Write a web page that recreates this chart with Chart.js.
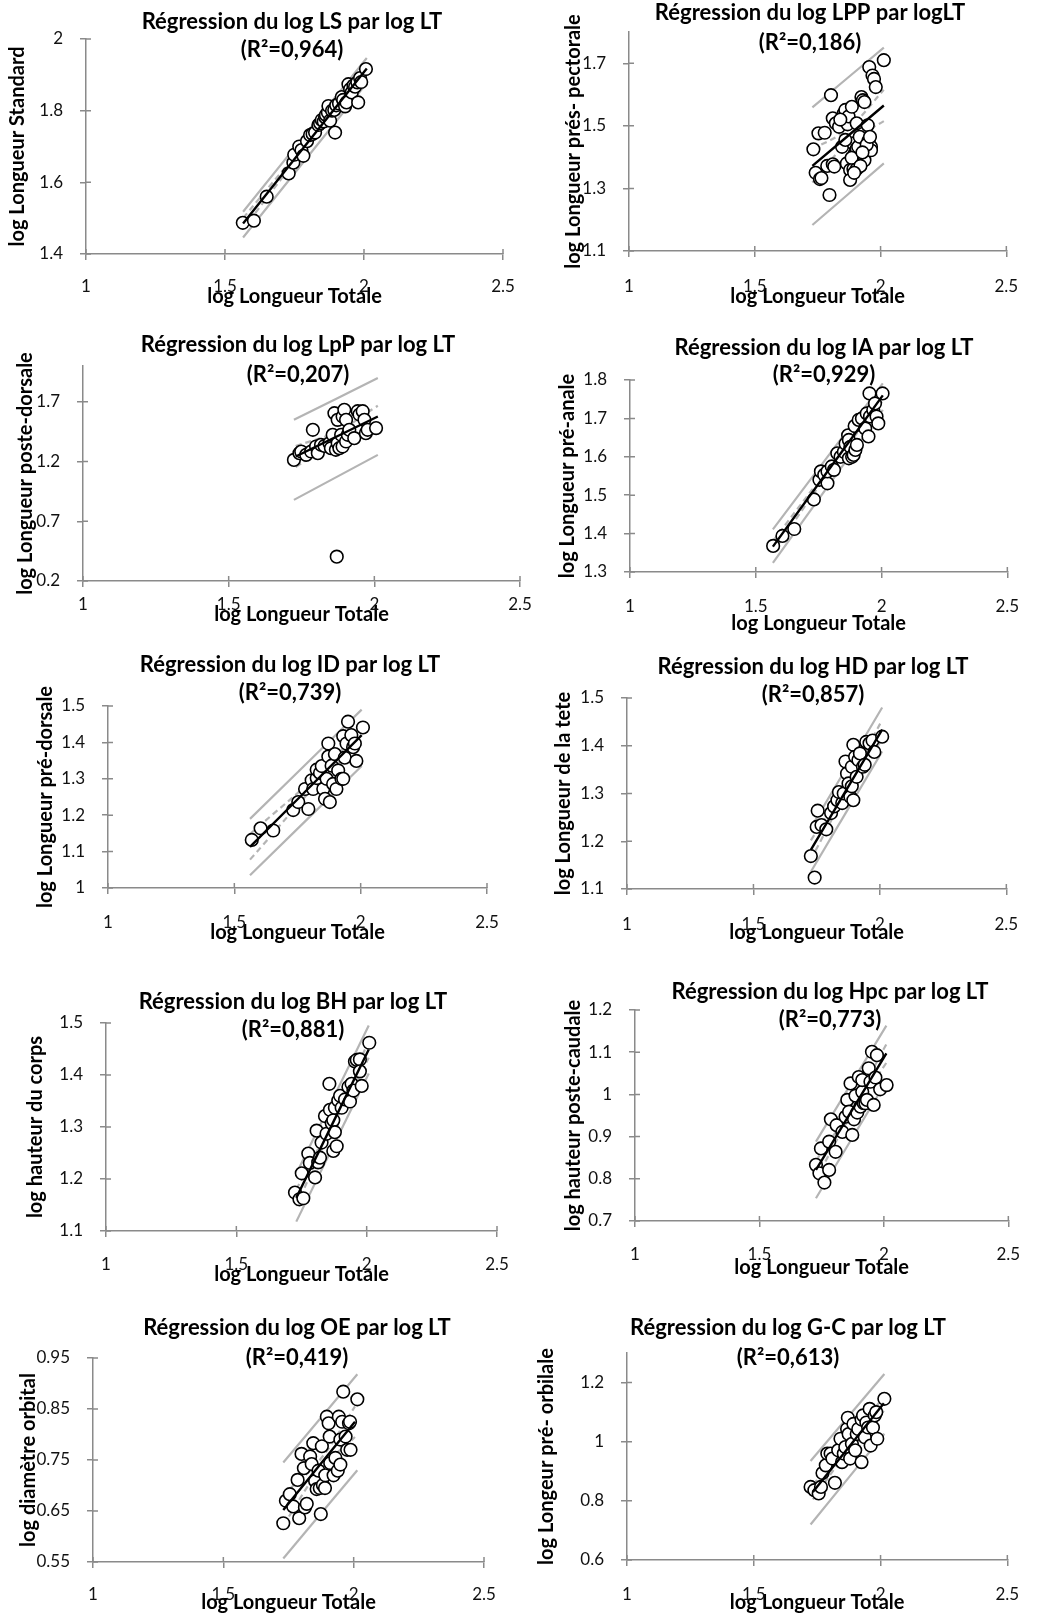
<!DOCTYPE html>
<html>
<head>
<meta charset="utf-8">
<script src="https://cdn.jsdelivr.net/npm/chart.js@4.4.0/dist/chart.umd.min.js"></script>
<style>
body { margin: 0; background: #fff; width: 1038px; height: 1617px; position: relative; overflow: hidden; }
.panel { position: absolute; }
</style>
</head>
<body>
<script>
// x axis is the same everywhere
var xTicks = [1, 1.5, 2, 2.5];
var xLabel = 'log Longueur Totale';

// LS
var lsTitle = ['Régression du log LS par log LT', '(R²=0,964)'];
var lsRange = [1.4, 2.0];
var lsTicks = [1.4, 1.6, 1.8, 2];
var lsPoints = [[1.564,1.487],[1.604,1.493],[1.650,1.560],[1.729,1.625],[1.746,1.655],[1.749,1.677],[1.767,1.700],[1.775,1.690],[1.782,1.674],[1.795,1.715],[1.806,1.732],[1.815,1.735],[1.824,1.739],[1.836,1.760],[1.842,1.765],[1.848,1.774],[1.855,1.770],[1.860,1.782],[1.863,1.788],[1.870,1.795],[1.872,1.813],[1.878,1.772],[1.885,1.800],[1.893,1.802],[1.896,1.739],[1.900,1.815],[1.910,1.820],[1.920,1.838],[1.925,1.830],[1.932,1.812],[1.937,1.823],[1.944,1.874],[1.950,1.860],[1.956,1.851],[1.962,1.870],[1.968,1.867],[1.976,1.879],[1.979,1.823],[1.986,1.891],[1.990,1.880],[2.007,1.916]];
var lsFit = [[1.565,1.485],[2.01,1.918]];
var lsPredUp = [[1.565,1.518],[2.01,1.947]];
var lsPredLo = [[1.565,1.446],[2.01,1.877]];
var lsConfUp = [[1.565,1.500],[1.87,1.787],[2.01,1.933]];
var lsConfLo = [[1.565,1.470],[1.87,1.777],[2.01,1.903]];

// LPP
var lppTitle = ['Régression du log LPP par logLT', '(R²=0,186)'];
var lppRange = [1.1, 1.8];
var lppTicks = [1.1, 1.3, 1.5, 1.7];
var lppPoints = [[1.733,1.425],[1.742,1.350],[1.759,1.330],[1.753,1.476],[1.765,1.333],[1.778,1.478],[1.788,1.372],[1.797,1.279],[1.803,1.598],[1.810,1.377],[1.810,1.524],[1.816,1.370],[1.822,1.508],[1.835,1.497],[1.847,1.433],[1.854,1.540],[1.860,1.551],[1.866,1.380],[1.869,1.505],[1.873,1.530],[1.879,1.359],[1.879,1.327],[1.886,1.561],[1.892,1.444],[1.892,1.362],[1.898,1.412],[1.905,1.508],[1.905,1.362],[1.905,1.427],[1.911,1.433],[1.917,1.465],[1.924,1.592],[1.930,1.582],[1.936,1.576],[1.936,1.390],[1.949,1.502],[1.953,1.454],[1.955,1.688],[1.962,1.433],[1.962,1.422],[1.968,1.661],[1.974,1.650],[1.981,1.624],[2.013,1.710],[1.885,1.398],[1.920,1.372],[1.945,1.440],[1.928,1.415],[1.860,1.455],[1.840,1.520],[1.958,1.465],[1.895,1.350]];
var lppFit = [[1.729,1.372],[2.013,1.565]];
var lppPredUp = [[1.729,1.559],[2.013,1.750]];
var lppPredLo = [[1.729,1.183],[2.013,1.380]];
var lppConfUp = [[1.729,1.425],[1.87,1.49],[2.013,1.615]];
var lppConfLo = [[1.729,1.319],[1.87,1.446],[2.013,1.515]];

// LpP
var lpTitle = ['Régression du log LpP par log LT', '(R²=0,207)'];
var lpRange = [0.2, 2.0];
var lpTicks = [0.2, 0.7, 1.2, 1.7];
var lpPoints = [[1.724,1.214],[1.743,1.270],[1.749,1.284],[1.766,1.256],[1.783,1.284],[1.789,1.466],[1.800,1.326],[1.806,1.270],[1.817,1.340],[1.829,1.331],[1.846,1.354],[1.851,1.312],[1.857,1.424],[1.863,1.605],[1.868,1.298],[1.871,0.404],[1.874,1.549],[1.874,1.354],[1.880,1.312],[1.886,1.424],[1.891,1.577],[1.891,1.326],[1.897,1.633],[1.903,1.549],[1.903,1.368],[1.909,1.424],[1.914,1.466],[1.931,1.396],[1.943,1.622],[1.949,1.594],[1.960,1.622],[1.966,1.549],[1.971,1.438],[1.977,1.466],[2.006,1.480]];
var lpFit = [[1.73,1.242],[2.012,1.577]];
var lpPredUp = [[1.724,1.55],[2.012,1.899]];
var lpPredLo = [[1.724,0.879],[2.012,1.256]];
var lpConfUp = [[1.73,1.33],[1.87,1.45],[2.012,1.667]];
var lpConfLo = [[1.73,1.154],[1.87,1.366],[2.012,1.487]];

// IA
var iaTitle = ['Régression du log IA par log LT', '(R²=0,929)'];
var iaRange = [1.3, 1.8];
var iaTicks = [1.3, 1.4, 1.5, 1.6, 1.7, 1.8];
var iaPoints = [[1.569,1.368],[1.606,1.394],[1.653,1.412],[1.731,1.489],[1.753,1.540],[1.759,1.562],[1.772,1.553],[1.785,1.531],[1.785,1.562],[1.802,1.575],[1.811,1.566],[1.824,1.609],[1.837,1.600],[1.850,1.613],[1.857,1.634],[1.867,1.656],[1.870,1.596],[1.870,1.644],[1.876,1.626],[1.883,1.600],[1.889,1.605],[1.893,1.680],[1.896,1.618],[1.902,1.631],[1.909,1.696],[1.922,1.700],[1.935,1.674],[1.941,1.713],[1.948,1.653],[1.952,1.765],[1.954,1.705],[1.967,1.722],[1.974,1.739],[1.980,1.705],[1.987,1.687],[2.004,1.765]];
var iaFit = [[1.568,1.366],[2.005,1.760]];
var iaPredUp = [[1.568,1.411],[2.005,1.791]];
var iaPredLo = [[1.568,1.324],[2.005,1.722]];
var iaConfUp = [[1.568,1.38],[1.87,1.643],[2.005,1.774]];
var iaConfLo = [[1.568,1.352],[1.87,1.633],[2.005,1.746]];

// ID
var idTitle = ['Régression du log ID par log LT', '(R²=0,739)'];
var idRange = [1.0, 1.5];
var idTicks = [1, 1.1, 1.2, 1.3, 1.4, 1.5];
var idPoints = [[1.569,1.132],[1.604,1.164],[1.654,1.158],[1.733,1.214],[1.753,1.236],[1.780,1.272],[1.793,1.217],[1.806,1.296],[1.812,1.272],[1.826,1.302],[1.826,1.325],[1.839,1.316],[1.846,1.335],[1.852,1.272],[1.859,1.245],[1.865,1.300],[1.872,1.397],[1.872,1.361],[1.878,1.236],[1.885,1.336],[1.891,1.286],[1.898,1.368],[1.904,1.272],[1.911,1.323],[1.924,1.300],[1.931,1.417],[1.931,1.300],[1.937,1.358],[1.944,1.397],[1.950,1.457],[1.963,1.420],[1.970,1.387],[1.977,1.397],[1.983,1.349],[2.009,1.441]];
var idFit = [[1.562,1.113],[2.004,1.42]];
var idPredUp = [[1.562,1.19],[2.004,1.49]];
var idPredLo = [[1.562,1.035],[2.004,1.335]];
var idConfUp = [[1.562,1.148],[1.87,1.337],[2.004,1.445]];
var idConfLo = [[1.562,1.078],[1.87,1.317],[2.004,1.395]];

// HD
var hdTitle = ['Régression du log HD par log LT', '(R²=0,857)'];
var hdRange = [1.1, 1.5];
var hdTicks = [1.1, 1.2, 1.3, 1.4, 1.5];
var hdPoints = [[1.727,1.169],[1.742,1.124],[1.750,1.230],[1.754,1.264],[1.769,1.234],[1.788,1.225],[1.807,1.259],[1.819,1.273],[1.832,1.286],[1.838,1.303],[1.851,1.280],[1.857,1.300],[1.864,1.367],[1.870,1.342],[1.876,1.321],[1.883,1.293],[1.889,1.356],[1.889,1.315],[1.895,1.402],[1.895,1.286],[1.902,1.377],[1.908,1.335],[1.915,1.370],[1.921,1.384],[1.933,1.356],[1.940,1.360],[1.946,1.408],[1.959,1.405],[1.971,1.411],[1.978,1.387],[2.009,1.419]];
var hdFit = [[1.727,1.182],[2.009,1.434]];
var hdPredUp = [[1.727,1.228],[2.009,1.48]];
var hdPredLo = [[1.727,1.136],[2.009,1.388]];
var hdConfUp = [[1.727,1.202],[1.87,1.318],[2.009,1.454]];
var hdConfLo = [[1.727,1.162],[1.87,1.302],[2.009,1.414]];

// BH
var bhTitle = ['Régression du log BH par log LT', '(R²=0,881)'];
var bhRange = [1.1, 1.5];
var bhTicks = [1.1, 1.2, 1.3, 1.4, 1.5];
var bhPoints = [[1.725,1.174],[1.742,1.161],[1.751,1.211],[1.757,1.163],[1.776,1.249],[1.782,1.231],[1.802,1.203],[1.808,1.293],[1.814,1.232],[1.821,1.241],[1.827,1.270],[1.840,1.321],[1.846,1.287],[1.857,1.383],[1.859,1.333],[1.866,1.307],[1.872,1.254],[1.872,1.313],[1.878,1.290],[1.878,1.337],[1.885,1.263],[1.891,1.351],[1.898,1.360],[1.904,1.337],[1.917,1.353],[1.930,1.377],[1.936,1.349],[1.942,1.383],[1.949,1.370],[1.955,1.426],[1.962,1.429],[1.974,1.430],[1.974,1.407],[1.981,1.379],[2.010,1.462]];
var bhFit = [[1.73,1.164],[2.008,1.449]];
var bhPredUp = [[1.73,1.21],[2.008,1.495]];
var bhPredLo = [[1.73,1.118],[2.008,1.403]];
var bhConfUp = [[1.73,1.18],[1.87,1.313],[2.008,1.465]];
var bhConfLo = [[1.73,1.148],[1.87,1.302],[2.008,1.433]];

// Hpc
var hpcTitle = ['Régression du log Hpc par log LT', '(R²=0,773)'];
var hpcRange = [0.7, 1.2];
var hpcTicks = [0.7, 0.8, 0.9, 1, 1.1, 1.2];
var hpcPoints = [[1.727,0.833],[1.741,0.813],[1.747,0.872],[1.761,0.791],[1.780,0.821],[1.780,0.888],[1.787,0.941],[1.806,0.864],[1.810,0.927],[1.833,0.911],[1.846,0.947],[1.853,0.987],[1.860,0.959],[1.866,1.026],[1.873,0.904],[1.880,0.941],[1.886,0.997],[1.893,0.957],[1.899,1.041],[1.906,0.971],[1.913,1.006],[1.913,1.034],[1.919,0.979],[1.926,0.979],[1.932,0.987],[1.939,1.062],[1.946,1.030],[1.952,1.101],[1.959,0.975],[1.966,1.040],[1.972,1.093],[1.985,1.012],[2.011,1.022]];
var hpcFit = [[1.727,0.821],[2.01,1.097]];
var hpcPredUp = [[1.727,0.888],[2.01,1.163]];
var hpcPredLo = [[1.727,0.754],[2.01,1.031]];
var hpcConfUp = [[1.727,0.843],[1.87,0.968],[2.01,1.119]];
var hpcConfLo = [[1.727,0.799],[1.87,0.953],[2.01,1.075]];

// OE
var oeTitle = ['Régression du log OE par log LT', '(R²=0,419)'];
var oeRange = [0.55, 0.95];
var oeTicks = [0.55, 0.65, 0.75, 0.85, 0.95];
var oePoints = [[1.730,0.626],[1.740,0.670],[1.755,0.683],[1.768,0.659],[1.785,0.711],[1.791,0.636],[1.800,0.762],[1.809,0.734],[1.813,0.657],[1.820,0.664],[1.833,0.757],[1.839,0.742],[1.845,0.783],[1.852,0.709],[1.858,0.693],[1.865,0.729],[1.870,0.695],[1.874,0.644],[1.878,0.777],[1.882,0.701],[1.890,0.695],[1.891,0.720],[1.897,0.835],[1.904,0.822],[1.908,0.796],[1.910,0.744],[1.923,0.720],[1.930,0.754],[1.939,0.729],[1.943,0.835],[1.949,0.790],[1.949,0.741],[1.956,0.825],[1.960,0.884],[1.969,0.796],[1.975,0.770],[1.982,0.822],[1.986,0.825],[1.988,0.770],[2.014,0.869]];
var oeFit = [[1.73,0.652],[2.005,0.825]];
var oePredUp = [[1.73,0.745],[2.014,0.918]];
var oePredLo = [[1.73,0.557],[2.014,0.730]];
var oeConfUp = [[1.73,0.682],[1.87,0.75],[2.005,0.855]];
var oeConfLo = [[1.73,0.622],[1.87,0.73],[2.005,0.795]];

// G-C
var gcTitle = ['Régression du log G-C par log LT', '(R²=0,613)'];
var gcRange = [0.6, 1.3];
var gcTicks = [0.6, 0.8, 1, 1.2];
var gcPoints = [[1.724,0.847],[1.739,0.836],[1.756,0.825],[1.765,0.847],[1.771,0.894],[1.784,0.920],[1.790,0.960],[1.803,0.960],[1.810,0.943],[1.820,0.861],[1.833,0.971],[1.842,1.010],[1.848,0.931],[1.855,0.960],[1.861,0.982],[1.868,1.043],[1.871,1.081],[1.874,1.026],[1.880,0.943],[1.887,0.993],[1.893,1.060],[1.900,0.971],[1.906,1.026],[1.912,1.043],[1.925,0.931],[1.925,1.075],[1.931,1.089],[1.938,1.015],[1.944,1.065],[1.951,1.048],[1.957,1.111],[1.961,0.987],[1.970,1.048],[1.977,1.089],[1.983,1.100],[1.987,1.010],[2.015,1.145]];
var gcFit = [[1.733,0.83],[2.013,1.13]];
var gcPredUp = [[1.724,0.935],[2.015,1.229]];
var gcPredLo = [[1.724,0.72],[2.015,1.027]];
var gcConfUp = [[1.733,0.855],[1.87,0.987],[2.013,1.155]];
var gcConfLo = [[1.733,0.805],[1.87,0.967],[2.013,1.105]];

var axisGray = '#8a8a8a';
var bandGray = '#b4b4b4';
var fontName = 'Lato';

// box = canvas [left, top, w, h], area = plot [left, top, right, bottom], tpos = [x, line1 y, line2 y]
var panels = [
  {title: lsTitle, yLabel: 'log Longueur Standard', pts: lsPoints, fit: lsFit, pu: lsPredUp, pl: lsPredLo, cu: lsConfUp, cl: lsConfLo, range: lsRange, ticks: lsTicks,
   box: [0, 0, 545, 320], area: [86, 39, 503, 254], tpos: [292, 22, 50], yTitleX: 18, xTitleOff: 43, xLabOff: 33},
  {title: lppTitle, yLabel: 'log Longueur prés- pectorale', pts: lppPoints, fit: lppFit, pu: lppPredUp, pl: lppPredLo, cu: lppConfUp, cl: lppConfLo, range: lppRange, ticks: lppTicks,
   box: [515, 0, 523, 320], area: [629, 32, 1023, 251], tpos: [810, 13, 43], yTitleX: 574, xTitleOff: 46, xLabOff: 36},
  {title: lpTitle, yLabel: 'log Longueur poste-dorsale', pts: lpPoints, fit: lpFit, pu: lpPredUp, pl: lpPredLo, cu: lpConfUp, cl: lpConfLo, range: lpRange, ticks: lpTicks,
   box: [0, 320, 545, 320], area: [83, 366, 520, 581], tpos: [298, 345, 375], yTitleX: 26, xTitleOff: 34, xLabOff: 24},
  {title: iaTitle, yLabel: 'log Longueur pré-anale', pts: iaPoints, fit: iaFit, pu: iaPredUp, pl: iaPredLo, cu: iaConfUp, cl: iaConfLo, range: iaRange, ticks: iaTicks,
   box: [515, 320, 523, 320], area: [630, 380, 1015, 572], tpos: [824, 348, 375], yTitleX: 568, xTitleOff: 52, xLabOff: 35},
  {title: idTitle, yLabel: 'log Longueur pré-dorsale', pts: idPoints, fit: idFit, pu: idPredUp, pl: idPredLo, cu: idConfUp, cl: idConfLo, range: idRange, ticks: idTicks,
   box: [0, 640, 545, 320], area: [108, 706, 487, 888], tpos: [290, 665, 693], yTitleX: 46, xTitleOff: 45, xLabOff: 35},
  {title: hdTitle, yLabel: 'log Longueur de la tete', pts: hdPoints, fit: hdFit, pu: hdPredUp, pl: hdPredLo, cu: hdConfUp, cl: hdConfLo, range: hdRange, ticks: hdTicks,
   box: [515, 640, 523, 320], area: [627, 698, 1023, 889], tpos: [813, 667, 695], yTitleX: 564, xTitleOff: 44, xLabOff: 36},
  {title: bhTitle, yLabel: 'log hauteur du corps', pts: bhPoints, fit: bhFit, pu: bhPredUp, pl: bhPredLo, cu: bhConfUp, cl: bhConfLo, range: bhRange, ticks: bhTicks,
   box: [0, 960, 545, 330], area: [106, 1023, 497, 1231], tpos: [293, 1002, 1030], yTitleX: 36, xTitleOff: 44, xLabOff: 34},
  {title: hpcTitle, yLabel: 'log hauteur poste-caudale', pts: hpcPoints, fit: hpcFit, pu: hpcPredUp, pl: hpcPredLo, cu: hpcConfUp, cl: hpcConfLo, range: hpcRange, ticks: hpcTicks,
   box: [515, 960, 523, 330], area: [635, 1010, 1013, 1221], tpos: [830, 992, 1020], yTitleX: 574, xTitleOff: 47, xLabOff: 34},
  {title: oeTitle, yLabel: 'log diamètre orbital', pts: oePoints, fit: oeFit, pu: oePredUp, pl: oePredLo, cu: oeConfUp, cl: oeConfLo, range: oeRange, ticks: oeTicks,
   box: [0, 1290, 545, 327], area: [93, 1358, 484, 1562], tpos: [297, 1328, 1358], yTitleX: 29, xTitleOff: 41, xLabOff: 33},
  {title: gcTitle, yLabel: 'log Longeur pré- orbilale', pts: gcPoints, fit: gcFit, pu: gcPredUp, pl: gcPredLo, cu: gcConfUp, cl: gcConfLo, range: gcRange, ticks: gcTicks,
   box: [515, 1290, 523, 327], area: [627, 1353, 1022, 1560], tpos: [788, 1328, 1358], yTitleX: 547, xTitleOff: 43, xLabOff: 35}
];

var tickSize = 17, axisTitleSize = 20, titleSize = 22;

// two line title, drawn over the plot like in the spreadsheet
var panelTitle = {
  id: 'panelTitle',
  afterDraw: function(chart) {
    var o = chart.options.plugins.panelTitle;
    var ctx = chart.ctx;
    ctx.save();
    ctx.font = 'bold ' + titleSize + 'px ' + fontName;
    ctx.fillStyle = '#000';
    ctx.textAlign = 'center';
    ctx.textBaseline = 'middle';
    ctx.fillText(o.text[0], o.x, o.y1);
    ctx.fillText(o.text[1], o.x, o.y2);
    ctx.restore();
  }
};

// inner half of the crossing tick marks
var crossTicks = {
  id: 'crossTicks',
  beforeDatasetsDraw: function(chart) {
    var ctx = chart.ctx, a = chart.chartArea, sx = chart.scales.x, sy = chart.scales.y;
    ctx.save();
    ctx.strokeStyle = axisGray;
    ctx.lineWidth = 1.5;
    ctx.beginPath();
    sx.ticks.forEach(function(t) {
      var p = sx.getPixelForValue(t.value);
      ctx.moveTo(p, a.bottom); ctx.lineTo(p, a.bottom - 5);
    });
    sy.ticks.forEach(function(t) {
      var p = sy.getPixelForValue(t.value);
      ctx.moveTo(a.left, p); ctx.lineTo(a.left + 5, p);
    });
    ctx.stroke();
    ctx.restore();
  }
};

function toXY(list) {
  return list.map(function(p) { return {x: p[0], y: p[1]}; });
}

function lineSet(list, color, width, dash, order) {
  return {data: toXY(list), showLine: true, borderColor: color, borderWidth: width, borderDash: dash,
          pointRadius: 0, fill: false, tension: 0.4, order: order};
}

panels.forEach(function(p) {
  var bx = p.box, a = p.area;
  var c = document.createElement('canvas');
  c.width = bx[2];
  c.height = bx[3];
  c.className = 'panel';
  c.style.left = bx[0] + 'px';
  c.style.top = bx[1] + 'px';
  document.body.appendChild(c);

  var yW = a[0] - bx[0];
  var xH = bx[1] + bx[3] - a[3];
  var axLH = axisTitleSize * 1.2;

  new Chart(c, {
    type: 'scatter',
    data: {
      datasets: [
        lineSet(p.pu, bandGray, 2.2, [], 3),
        lineSet(p.pl, bandGray, 2.2, [], 3),
        lineSet(p.cu, bandGray, 2.2, [6, 4], 3),
        lineSet(p.cl, bandGray, 2.2, [6, 4], 3),
        {data: toXY(p.pts), pointRadius: 6.3, pointBackgroundColor: '#fff', pointBorderColor: '#000',
         pointBorderWidth: 1.6, order: 2},
        lineSet(p.fit, '#000', 2.4, [], 1)
      ]
    },
    options: {
      responsive: false,
      animation: false,
      layout: {padding: {top: a[1] - bx[1], right: bx[0] + bx[2] - a[2], bottom: 0, left: 0}},
      plugins: {
        legend: {display: false},
        tooltip: {enabled: false},
        panelTitle: {text: p.title, x: p.tpos[0] - bx[0], y1: p.tpos[1] - bx[1], y2: p.tpos[2] - bx[1]}
      },
      scales: {
        x: {
          type: 'linear', min: 1, max: 2.5,
          afterFit: function(s) { s.height = xH; },
          afterBuildTicks: function(s) { s.ticks = xTicks.map(function(v) { return {value: v}; }); },
          ticks: {font: {family: fontName, size: tickSize}, color: '#111', maxRotation: 0, autoSkip: false,
                  padding: p.xLabOff - 6 - tickSize * 0.6, callback: function(v) { return String(v); }},
          grid: {drawOnChartArea: false, color: axisGray, lineWidth: 1.5, tickLength: 6},
          border: {color: axisGray, width: 1.5},
          title: {display: true, text: xLabel, color: '#000', font: {family: fontName, size: axisTitleSize, weight: 'bold'},
                  padding: {top: 0, bottom: xH - p.xTitleOff - axLH / 2}}
        },
        y: {
          type: 'linear', min: p.range[0], max: p.range[1],
          afterFit: function(s) { s.width = yW; },
          afterBuildTicks: function(s) { s.ticks = p.ticks.map(function(v) { return {value: v}; }); },
          ticks: {font: {family: fontName, size: tickSize}, color: '#111', padding: 17,
                  callback: function(v) { return String(v); }},
          grid: {drawOnChartArea: false, color: axisGray, lineWidth: 1.5, tickLength: 6},
          border: {color: axisGray, width: 1.5},
          title: {display: true, text: p.yLabel, color: '#000', font: {family: fontName, size: axisTitleSize, weight: 'bold'},
                  padding: {top: p.yTitleX - bx[0] - axLH / 2, bottom: 0}}
        }
      }
    },
    plugins: [crossTicks, panelTitle]
  });
});
</script>
</body>
</html>
